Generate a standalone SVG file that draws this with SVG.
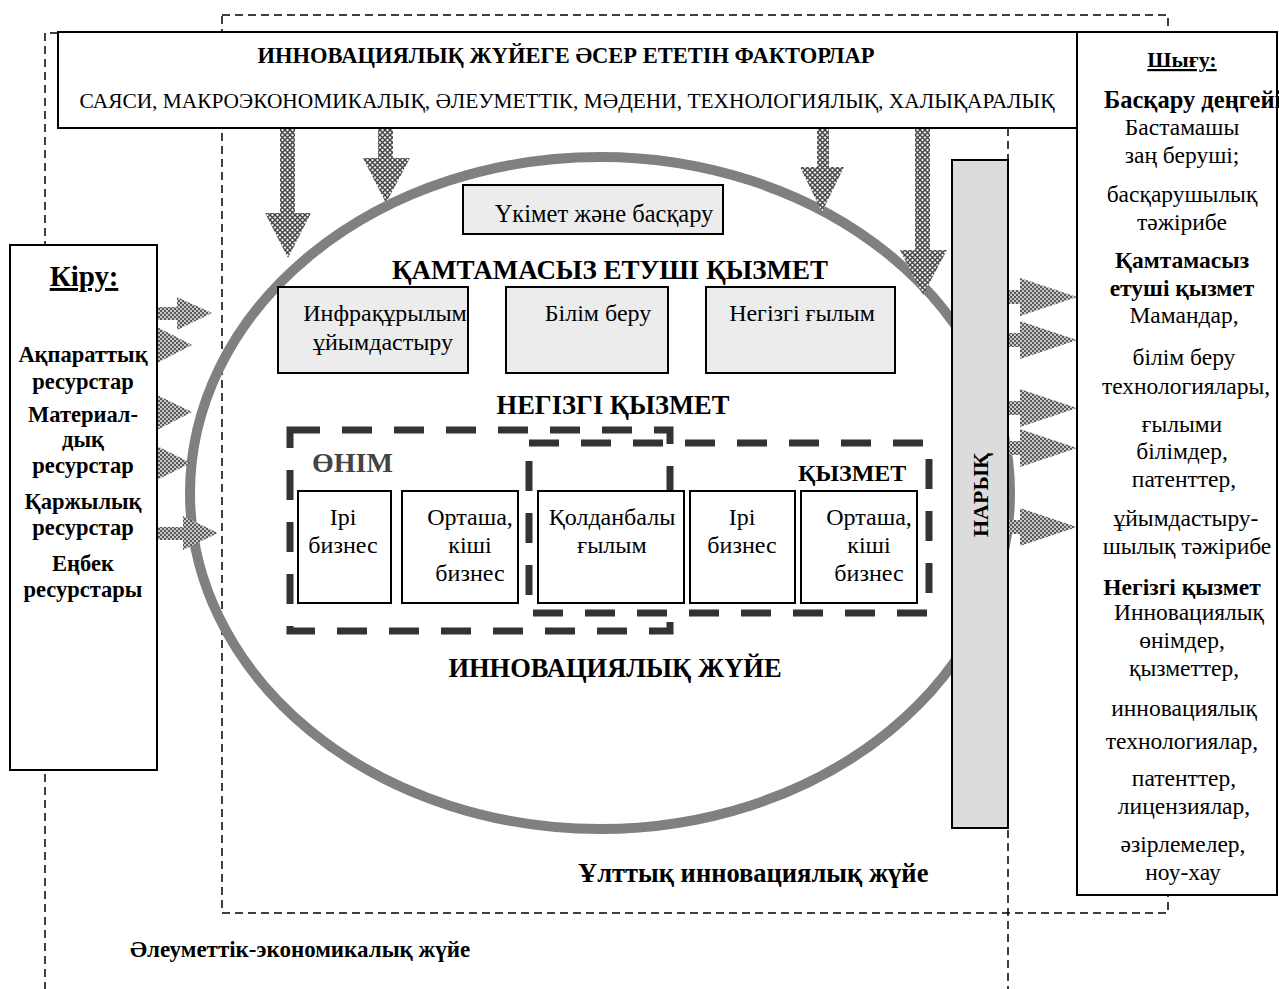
<svg xmlns="http://www.w3.org/2000/svg" width="1279" height="989" viewBox="0 0 1279 989">
<defs>
<pattern id="hatchD" width="5" height="5" patternUnits="userSpaceOnUse">
<rect width="5" height="5" fill="#eeeeee"/>
<path d="M0,0 L5,5 M5,0 L0,5" stroke="#444" stroke-width="1.4"/>
</pattern>
<pattern id="hatchS" width="4" height="4" patternUnits="userSpaceOnUse">
<rect width="4" height="4" fill="#5a5a5a"/>
<rect x="0" y="0" width="2" height="2" fill="#c8c8c8"/>
<rect x="2" y="2" width="2" height="2" fill="#c8c8c8"/>
</pattern>
</defs>
<style>
text{font-family:"Liberation Serif","Times New Roman",serif;fill:#000}
.b{font-weight:bold}
.c{text-anchor:middle}
.dash{fill:none;stroke:#000;stroke-width:1.5;stroke-dasharray:8 5}
.bigdash{fill:none;stroke:#333;stroke-width:7;stroke-dasharray:30 22}
.box{fill:#fff;stroke:#000;stroke-width:2}
.gbox{fill:#ececec;stroke:#000;stroke-width:2}
.arD{fill:url(#hatchD);stroke:none}
.arS{fill:url(#hatchS);stroke:none}
.t24{font-size:24px}
.tin{font-size:22.5px}
.tout{font-size:23.5px}
</style>
<rect width="1279" height="989" fill="#fff"/>

<g id="system-borders">
<path class="dash" d="M58,33 H45 V989"/>
<path class="dash" d="M1008,128 V989"/>
<rect class="dash" x="222" y="15" width="946" height="898"/>
</g>

<g id="innovation-ellipse">
<ellipse cx="600" cy="493" rx="410" ry="336" fill="none" stroke="#808080" stroke-width="10"/>
</g>

<g id="connectors">
<path class="arD" d="M280,128 H295 V213 H311 L288,258 L265,213 H280 Z"/>
<path class="arD" d="M378,128 H393 V158 H410 L386,203 L363,158 H378 Z"/>
<path class="arD" d="M817,128 H829 V167 H844 L822,212 L800,167 H817 Z"/>
<path class="arD" d="M915,128 H930 V250 H947 L923,295 L900,250 H915 Z"/>
<path class="arS" d="M157,307 H177 V297 L212,313 L177,330 V320 H157 Z"/>
<path class="arS" d="M157,327 L192,345 L157,363 Z"/>
<path class="arS" d="M157,395 L192,412 L157,430 Z"/>
<path class="arS" d="M157,446 L191,463 L157,480 Z"/>
<path class="arS" d="M157,527 H183 V516 L218,533 L183,550 V540 H157 Z"/>
<path class="arS" d="M1008,290 H1020 V278 L1077,297 L1020,316 V304 H1008 Z"/>
<path class="arS" d="M1008,333 H1020 V321 L1077,340 L1020,359 V347 H1008 Z"/>
<path class="arS" d="M1008,401 H1020 V389 L1077,408 L1020,427 V415 H1008 Z"/>
<path class="arS" d="M1008,441 H1020 V429 L1077,448 L1020,467 V455 H1008 Z"/>
<path class="arS" d="M1008,520 H1020 V508 L1077,527 L1020,546 V534 H1008 Z"/>
</g>

<g id="factors">
<rect class="box" x="58" y="32" width="1019" height="96"/>
<text class="b c" x="566" y="63" font-size="22.5">ИННОВАЦИЯЛЫҚ ЖҮЙЕГЕ ӘСЕР ЕТЕТІН ФАКТОРЛАР</text>
<text class="c" x="567" y="108" font-size="22" textLength="975" lengthAdjust="spacingAndGlyphs">САЯСИ, МАКРОЭКОНОМИКАЛЫҚ, ӘЛЕУМЕТТІК, МӘДЕНИ, ТЕХНОЛОГИЯЛЫҚ, ХАЛЫҚАРАЛЫҚ</text>
</g>

<g id="input">
<rect class="box" x="10" y="245" width="147" height="525"/>
<text class="b c" x="84" y="286" font-size="29" text-decoration="underline">Кіру:</text>
<text class="b c tin" x="83" y="362">Ақпараттық</text>
<text class="b c tin" x="83" y="389">ресурстар</text>
<text class="b c tin" x="83" y="422">Материал-</text>
<text class="b c tin" x="83" y="447">дық</text>
<text class="b c tin" x="83" y="473">ресурстар</text>
<text class="b c tin" x="83" y="509">Қаржылық</text>
<text class="b c tin" x="83" y="535">ресурстар</text>
<text class="b c tin" x="83" y="571">Еңбек</text>
<text class="b c tin" x="83" y="597">ресурстары</text>
</g>

<g id="output">
<rect class="box" x="1077" y="32" width="200" height="863"/>
<text class="b c" x="1182" y="67" font-size="22" text-decoration="underline">Шығу:</text>
<text class="b" x="1104" y="108" font-size="24.5">Басқару деңгейі</text>
<text class="c tout" x="1182" y="135">Бастамашы</text>
<text class="c tout" x="1182" y="163">заң беруші;</text>
<text class="c tout" x="1182" y="202">басқарушылық</text>
<text class="c tout" x="1182" y="230">тәжірибе</text>
<text class="b c tout" x="1182" y="268">Қамтамасыз</text>
<text class="b c tout" x="1182" y="296">етуші қызмет</text>
<text class="c tout" x="1184" y="323">Мамандар,</text>
<text class="c tout" x="1184" y="365">білім беру</text>
<text class="c tout" x="1186" y="394">технологиялары,</text>
<text class="c tout" x="1182" y="432">ғылыми</text>
<text class="c tout" x="1182" y="459">білімдер,</text>
<text class="c tout" x="1184" y="487">патенттер,</text>
<text class="c tout" x="1186" y="526">ұйымдастыру-</text>
<text class="c tout" x="1187" y="554">шылық тәжірибе</text>
<text class="b c tout" x="1182" y="595">Негізгі қызмет</text>
<text class="c tout" x="1189" y="620">Инновациялық</text>
<text class="c tout" x="1182" y="648">өнімдер,</text>
<text class="c tout" x="1184" y="676">қызметтер,</text>
<text class="c tout" x="1184" y="716">инновациялық</text>
<text class="c tout" x="1182" y="749">технологиялар,</text>
<text class="c tout" x="1184" y="786">патенттер,</text>
<text class="c tout" x="1184" y="814">лицензиялар,</text>
<text class="c tout" x="1183" y="852">әзірлемелер,</text>
<text class="c tout" x="1183" y="880">ноу-хау</text>
</g>

<g id="market">
<rect x="952" y="160" width="56" height="668" fill="#dcdcdc" stroke="#000" stroke-width="2"/>
<text class="b c" font-size="22" transform="translate(988,495) rotate(-90)">НАРЫҚ</text>
</g>

<g id="government">
<rect class="gbox" x="463" y="185" width="260" height="49"/>
<text class="c" x="604" y="222" font-size="24.5">Үкімет және басқару</text>
</g>

<text class="b c" x="610" y="279" font-size="27">ҚАМТАМАСЫЗ ЕТУШІ ҚЫЗМЕТ</text>

<g id="infrastructure">
<rect class="gbox" x="278" y="287" width="190" height="86"/>
<text class="c t24" x="385" y="321">Инфрақұрылым</text>
<text class="c t24" x="383" y="350">ұйымдастыру</text>
</g>
<g id="education">
<rect class="gbox" x="506" y="287" width="162" height="86"/>
<text class="c t24" x="598" y="321">Білім беру</text>
</g>
<g id="basic-science">
<rect class="gbox" x="706" y="287" width="189" height="86"/>
<text class="c t24" x="802" y="321">Негізгі ғылым</text>
</g>

<text class="b c" x="613" y="414" font-size="26.5">НЕГІЗГІ ҚЫЗМЕТ</text>

<g id="product-group">
<rect class="bigdash" x="290" y="430" width="380" height="201"/>
<text class="b" x="312" y="472" font-size="28" style="fill:#444">ӨНІМ</text>
</g>
<g id="service-group">
<rect class="bigdash" x="529" y="443" width="400" height="170"/>
<text class="b" x="798" y="481" font-size="24">ҚЫЗМЕТ</text>
</g>

<g id="product-large">
<rect class="box" x="298" y="491" width="93" height="112"/>
<text class="c t24" x="343" y="525">Ірі</text>
<text class="c t24" x="343" y="553">бизнес</text>
</g>
<g id="product-sme">
<rect class="box" x="402" y="491" width="116" height="112"/>
<text class="c t24" x="470" y="525">Орташа,</text>
<text class="c t24" x="470" y="553">кіші</text>
<text class="c t24" x="470" y="581">бизнес</text>
</g>
<g id="applied-science">
<rect class="box" x="538" y="491" width="146" height="112"/>
<text class="c t24" x="612" y="525">Қолданбалы</text>
<text class="c t24" x="612" y="553">ғылым</text>
</g>
<g id="service-large">
<rect class="box" x="690" y="491" width="105" height="112"/>
<text class="c t24" x="742" y="525">Ірі</text>
<text class="c t24" x="742" y="553">бизнес</text>
</g>
<g id="service-sme">
<rect class="box" x="801" y="491" width="116" height="112"/>
<text class="c t24" x="869" y="525">Орташа,</text>
<text class="c t24" x="869" y="553">кіші</text>
<text class="c t24" x="869" y="581">бизнес</text>
</g>

<text class="b c" x="615" y="677" font-size="26.5">ИННОВАЦИЯЛЫҚ ЖҮЙЕ</text>
<text class="b" x="578" y="882" font-size="26.5">Ұлттық инновациялық жүйе</text>
<text class="b" x="130" y="957" font-size="23">Әлеуметтік-экономикалық жүйе</text>
</svg>
